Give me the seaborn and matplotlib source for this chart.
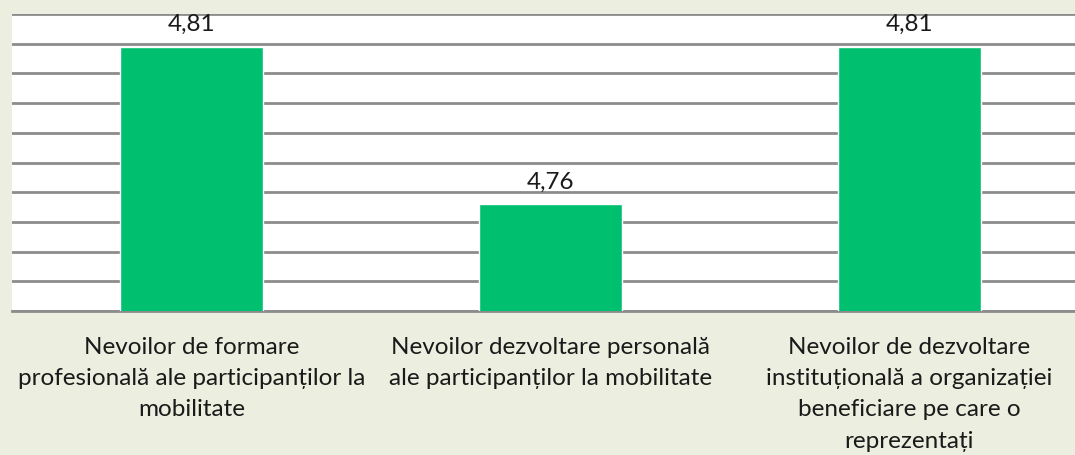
import numpy as np
import pandas as pd
import seaborn as sns
import matplotlib.pyplot as plt

# values (axis 4.72 .. 4.82)
categories = [
    "Nevoilor de formare\nprofesională ale participanților la\nmobilitate",
    "Nevoilor dezvoltare personală\nale participanților la mobilitate",
    "Nevoilor de dezvoltare\ninstituțională a organizației\nbeneficiare pe care o\nreprezentați",
]
scores = [4.809, 4.756, 4.809]
y_ticks = [4.72, 4.73, 4.74, 4.75, 4.76, 4.77, 4.78, 4.79, 4.80, 4.81, 4.82]

bg = "#ECEEDF"
bar_color = "#00BF6F"
grid_color = "#8C8C8C"

sns.set_style("white")
plt.rcParams["font.family"] = ["Lato", "DejaVu Sans"]

df = pd.DataFrame({"need": categories, "score": scores})

fig = plt.figure(figsize=(10.75, 4.56), dpi=100, facecolor=bg)
ax = fig.add_axes([12 / 1075, 144 / 456, 1077 / 1075, 297 / 456])
ax.set_facecolor("white")

sns.barplot(data=df, x="need", y="score", color=bar_color, width=0.4,
            saturation=1, ax=ax, zorder=3)

ax.set_ylim(y_ticks[0], y_ticks[-1])
ax.set_yticks(y_ticks)
ax.set_yticklabels([])
ax.tick_params(axis="y", length=0)
ax.yaxis.grid(True, color=grid_color, linewidth=2, zorder=0)
ax.set_axisbelow(True)
ax.set_xlim(-0.5, 2.5)

for s in ["top", "left", "right"]:
    ax.spines[s].set_visible(False)
ax.spines["bottom"].set_color(grid_color)
ax.spines["bottom"].set_linewidth(2)

ax.set_xticks([-0.5, 0.5, 1.5, 2.5], minor=True)
ax.tick_params(axis="x", which="minor", length=6, width=1.5, color=grid_color)
ax.tick_params(axis="x", which="major", length=0, pad=18, labelsize=17.5,
               labelcolor="#1A1A1A")
for lbl in ax.get_xticklabels():
    lbl.set_linespacing(1.6)
ax.set_xlabel("")
ax.set_ylabel("")

for i, v in enumerate(scores):
    ax.annotate(f"{v:.2f}".replace(".", ","), (i, v), xytext=(0, 9),
                textcoords="offset points", ha="center", va="bottom",
                fontsize=17.5, color="#1A1A1A")

fig.savefig("out.png", dpi=100, facecolor=bg)
